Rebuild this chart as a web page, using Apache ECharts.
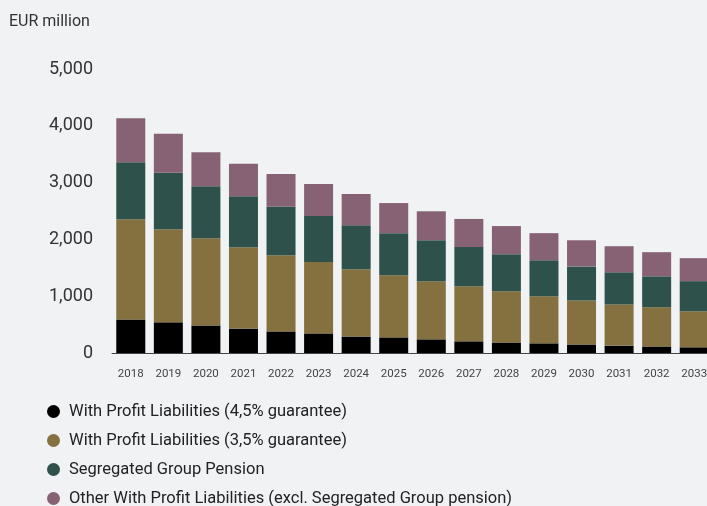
<!DOCTYPE html>
<html>
<head>
<meta charset="utf-8">
<script src="https://cdn.jsdelivr.net/npm/echarts@6/dist/echarts.min.js"></script>
<style>
  html, body { margin: 0; padding: 0; background: #f0f2f4; }
  #chart { width: 707px; height: 506px; }
</style>
</head>
<body>
<div id="chart"></div>
<script>
// EUR million
const years = ['2018', '2019', '2020', '2021', '2022', '2023', '2024', '2025',
  '2026', '2027', '2028', '2029', '2030', '2031', '2032', '2033'];
const guarantee45 = [590, 540, 485, 430, 380, 345, 290, 275, 240, 205, 185, 170, 150, 130, 115, 100];
const guarantee35 = [1765, 1640, 1535, 1430, 1340, 1255, 1185, 1095, 1025, 970, 900, 830, 775, 725, 690, 635];
const segregated = [1005, 995, 915, 900, 860, 810, 775, 740, 720, 690, 655, 635, 600, 565, 545, 530];
const otherProfit = [775, 685, 600, 570, 570, 565, 550, 530, 510, 495, 495, 475, 460, 460, 425, 405];
const yTicks = [0, 1000, 2000, 3000, 4000, 5000];

const names = [
  'With Profit Liabilities (4,5% guarantee)',
  'With Profit Liabilities (3,5% guarantee)',
  'Segregated Group Pension',
  'Other With Profit Liabilities (excl. Segregated Group pension)'
];
const colors = ['#000000', '#85703f', '#2e524b', '#876275'];
const values = [guarantee45, guarantee35, segregated, otherProfit];

const chart = echarts.init(document.getElementById('chart'));
chart.setOption({
  backgroundColor: '#f0f2f4',
  animation: false,
  textStyle: { fontFamily: 'Roboto' },
  title: {
    text: 'EUR million',
    left: 4,
    top: 9,
    textStyle: { fontSize: 16, fontWeight: 'normal', color: '#333' }
  },
  // plot runs past the right edge of the window, like the reference
  grid: { left: 112, width: 601, top: 69, bottom: 153, outerBoundsMode: 'none' },
  legend: {
    orient: 'vertical',
    left: 47,
    top: 403,
    height: 120,
    padding: 0,
    icon: 'circle',
    itemWidth: 13,
    itemHeight: 13,
    itemGap: 12,
    textStyle: { fontSize: 16.5, color: '#222', padding: [0, 0, 0, 4] },
    data: names
  },
  xAxis: {
    type: 'category',
    data: years,
    axisTick: { show: false },
    axisLine: { lineStyle: { color: '#444', width: 1 } },
    axisLabel: { fontSize: 11.5, color: '#444', margin: 15 }
  },
  yAxis: {
    type: 'value',
    min: yTicks[0],
    max: yTicks[yTicks.length - 1],
    interval: 1000,
    splitLine: { show: false },
    axisLine: { show: false },
    axisTick: { show: false },
    axisLabel: {
      fontSize: 18,
      color: '#333',
      margin: 19,
      formatter: v => v.toLocaleString('en-US')
    }
  },
  series: values.map((data, i) => ({
    name: names[i],
    type: 'bar',
    stack: 'total',
    barWidth: 29,
    itemStyle: { color: colors[i] },
    data: data
  }))
});
</script>
</body>
</html>
